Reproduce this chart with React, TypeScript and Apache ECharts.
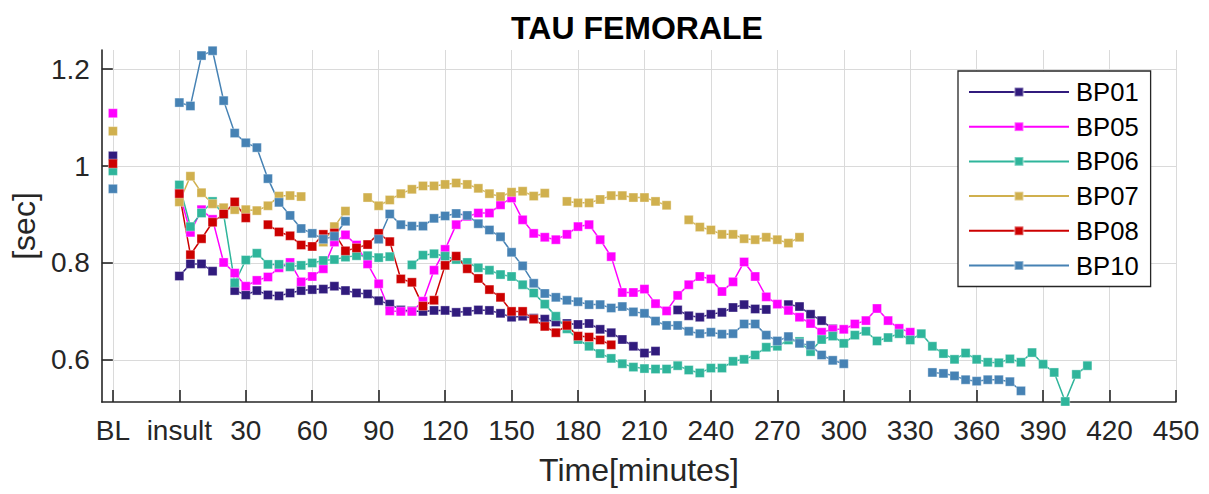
import React, { useEffect, useRef } from 'react';
import * as echarts from 'echarts';

// Sampling grid (minutes after insult), baseline position and the break between them
const TIMES: number[] = Array.from({ length: 83 }, (_, i) => i * 5); // 0 .. 410
const BL_TIME = -30;
const GAP_TIME = -15;

const X_TICKS = [-30, 0, 30, 60, 90, 120, 150, 180, 210, 240, 270, 300, 330, 360, 390, 420, 450];
const X_LABELS = ['BL', 'insult', '30', '60', '90', '120', '150', '180', '210', '240', '270', '300', '330', '360', '390', '420', '450'];
const Y_TICKS = [0.6, 0.8, 1, 1.2];
const Y_LABELS = ['0.6', '0.8', '1', '1.2'];

const N = null;

const BL_VALUES = { BP01: 1.021, BP05: 1.109, BP06: 0.99, BP07: 1.072, BP08: 1.005, BP10: 0.953 };

const BP01 = [
  0.773, 0.798, 0.798, 0.783, N, 0.743, 0.734, 0.743, 0.734, 0.732,
  0.738, 0.743, 0.745, 0.746, 0.752, 0.743, 0.738, 0.736, 0.722, 0.715,
  0.703, 0.701, 0.700, 0.702, 0.702, 0.698, 0.700, 0.703, 0.702, 0.696,
  0.688, 0.690, 0.686, 0.684, 0.678, 0.675, 0.673, 0.675, 0.663, 0.656,
  0.642, 0.628, 0.614, 0.618, N, 0.703, 0.691, 0.688, 0.694, 0.698,
  0.708, 0.714, 0.705, 0.704, N, 0.714, 0.710, 0.694, 0.681, 0.664,
  N, N, N, N, N, N, N, N, N, N,
  N, N, N, N, N, N, N, N, N, N,
  N, N, N,
];

const BP05 = [
  0.945, 0.863, 0.910, 0.890, 0.801, 0.779, 0.752, 0.764, 0.771, 0.790,
  0.801, 0.761, 0.772, 0.788, 0.843, 0.858, 0.837, 0.798, 0.757, 0.701,
  0.700, 0.700, 0.721, 0.785, 0.828, 0.879, 0.896, 0.903, 0.903, 0.920,
  0.934, 0.889, 0.861, 0.853, 0.848, 0.859, 0.875, 0.879, 0.848, 0.813,
  0.739, 0.739, 0.746, 0.716, 0.701, 0.733, 0.755, 0.772, 0.767, 0.741,
  0.761, 0.802, 0.772, 0.730, 0.715, 0.702, 0.688, 0.675, 0.657, 0.663,
  0.663, 0.674, 0.681, 0.706, 0.681, 0.665, 0.657, N, N, N,
  N, N, N, N, N, N, N, N, N, N,
  N, N, N,
];

const BP06 = [
  0.961, 0.875, 0.903, 0.927, 0.900, 0.759, 0.806, 0.820, 0.797, 0.797,
  0.792, 0.795, 0.800, 0.805, 0.807, 0.812, 0.815, 0.815, 0.811, 0.813,
  N, 0.796, 0.816, 0.819, 0.814, 0.807, 0.801, 0.790, 0.785, 0.776,
  0.772, 0.755, 0.738, 0.715, 0.690, 0.664, 0.642, 0.628, 0.613, 0.603,
  0.592, 0.585, 0.582, 0.581, 0.581, 0.588, 0.579, 0.573, 0.583, 0.583,
  0.597, 0.601, 0.610, 0.626, 0.628, 0.641, 0.638, 0.617, 0.642, 0.649,
  0.634, 0.651, 0.659, 0.639, 0.646, 0.654, 0.641, 0.654, 0.628, 0.613,
  0.601, 0.614, 0.601, 0.595, 0.594, 0.602, 0.595, 0.615, 0.591, 0.574,
  0.514, 0.570, 0.588,
];

const BP07 = [
  0.926, 0.979, 0.945, 0.922, 0.914, 0.910, 0.910, 0.908, 0.918, 0.938,
  0.939, 0.937, N, 0.843, 0.875, 0.907, N, 0.935, 0.918, 0.930,
  0.943, 0.952, 0.959, 0.959, 0.962, 0.965, 0.962, 0.954, 0.943, 0.937,
  0.946, 0.948, 0.938, 0.944, N, 0.927, 0.924, 0.924, 0.931, 0.939,
  0.939, 0.935, 0.935, 0.927, 0.919, N, 0.889, 0.874, 0.868, 0.859,
  0.859, 0.850, 0.848, 0.853, 0.848, 0.841, 0.853, N, N, N,
  N, N, N, N, N, N, N, N, N, N,
  N, N, N, N, N, N, N, N, N, N,
  N, N, N,
];

const BP08 = [
  0.943, 0.817, 0.850, 0.884, 0.901, 0.926, 0.893, N, 0.879, 0.864,
  0.856, 0.837, 0.834, 0.859, 0.862, 0.825, 0.831, 0.838, 0.861, 0.844,
  0.767, 0.760, 0.711, 0.723, 0.795, 0.814, 0.788, 0.768, 0.745, 0.729,
  0.700, 0.700, 0.684, 0.669, 0.656, 0.671, 0.649, 0.647, 0.641, 0.631,
  N, N, N, N, N, N, N, N, N, N,
  N, N, N, N, N, N, N, N, N, N,
  N, N, N, N, N, N, N, N, N, N,
  N, N, N, N, N, N, N, N, N, N,
  N, N, N,
];

const BP10 = [
  1.131, 1.124, 1.228, 1.238, 1.135, 1.068, 1.048, 1.038, 0.974, 0.925,
  0.898, 0.871, 0.861, 0.849, 0.855, 0.886, N, N, 0.849, 0.901,
  0.879, 0.876, 0.876, 0.892, 0.897, 0.902, 0.898, 0.881, 0.868, 0.854,
  0.822, 0.794, 0.758, 0.737, 0.729, 0.723, 0.720, 0.714, 0.714, 0.707,
  0.710, 0.699, 0.696, 0.680, 0.671, 0.671, 0.659, 0.654, 0.657, 0.653,
  0.654, 0.674, 0.674, 0.651, 0.639, 0.648, 0.634, 0.630, 0.610, 0.599,
  0.592, N, N, N, N, N, N, N, 0.574, 0.572,
  0.567, 0.559, 0.556, 0.559, 0.559, 0.555, 0.536, N, N, N,
  N, N, N,
];

const SERIES_DEF = [
  { name: 'BP01', color: '#311b7d', bl: BL_VALUES.BP01, values: BP01 },
  { name: 'BP05', color: '#ff00ff', bl: BL_VALUES.BP05, values: BP05 },
  { name: 'BP06', color: '#2fb59b', bl: BL_VALUES.BP06, values: BP06 },
  { name: 'BP07', color: '#d0b04e', bl: BL_VALUES.BP07, values: BP07 },
  { name: 'BP08', color: '#cc0000', bl: BL_VALUES.BP08, values: BP08 },
  { name: 'BP10', color: '#4682b4', bl: BL_VALUES.BP10, values: BP10 },
];

const FONT = "'Liberation Sans', Arial, Helvetica, sans-serif";
const AXIS_COLOR = '#262626';
const GRID_COLOR = '#dadada';

export default function App() {
  const ref = useRef<HTMLDivElement>(null);

  useEffect(() => {
    if (!ref.current) return;
    const chart = echarts.init(ref.current, null, { renderer: 'svg' });

    const series = SERIES_DEF.map((s) => ({
      name: s.name,
      type: 'line',
      data: [
        [BL_TIME, s.bl],
        [GAP_TIME, '-'],
        ...TIMES.map((t, i) => [t, s.values[i] == null ? '-' : s.values[i]]),
      ],
      symbol: 'rect',
      symbolSize: 9,
      showSymbol: true,
      connectNulls: false,
      lineStyle: { width: 1.5, color: s.color },
      itemStyle: { color: s.color, borderColor: 'rgba(255,255,255,0.35)', borderWidth: 1 },
      emphasis: { disabled: true },
    }));

    chart.setOption({
      animation: false,
      backgroundColor: '#ffffff',
      textStyle: { fontFamily: FONT },
      grid: { left: 100, right: 33, top: 50, bottom: 92, containLabel: false },
      graphic: [
        {
          type: 'text',
          x: 637,
          y: 28,
          style: {
            text: 'TAU FEMORALE',
            font: `bold 32px ${FONT}`,
            fill: '#000',
            textAlign: 'center',
            textVerticalAlign: 'middle',
          },
        },
      ],
      legend: {
        orient: 'vertical',
        left: 958,
        top: 71,
        itemWidth: 100,
        itemHeight: 11,
        itemGap: 8.7,
        padding: [8, 12, 8, 10],
        backgroundColor: '#ffffff',
        borderColor: AXIS_COLOR,
        borderWidth: 1.3,
        textStyle: { fontSize: 25.6, color: '#000', fontFamily: FONT, padding: [0, 0, 0, 2] },
        data: SERIES_DEF.map((s) => s.name),
        selectedMode: false,
      },
      xAxis: {
        type: 'value',
        min: -35,
        max: 450,
        name: 'Time[minutes]',
        nameLocation: 'middle',
        nameGap: 52,
        nameTextStyle: { fontSize: 32, color: AXIS_COLOR, fontFamily: FONT },
        axisLine: { show: true, onZero: false, lineStyle: { color: AXIS_COLOR, width: 1.6 } },
        axisTick: {
          show: true,
          inside: true,
          length: 12,
          customValues: X_TICKS,
          lineStyle: { color: AXIS_COLOR, width: 1.6 },
        },
        axisLabel: {
          customValues: X_TICKS,
          formatter: (v: number) => {
            const idx = X_TICKS.indexOf(v);
            return idx >= 0 ? X_LABELS[idx] : '';
          },
          fontSize: 28,
          color: AXIS_COLOR,
          margin: 14,
          fontFamily: FONT,
        },
        splitLine: { show: true, lineStyle: { color: GRID_COLOR, width: 1 } },
      },
      yAxis: {
        type: 'value',
        min: 0.513,
        max: 1.2395,
        name: '[sec]',
        nameLocation: 'middle',
        nameGap: 56,
        nameRotate: 90,
        nameTextStyle: { fontSize: 32, color: AXIS_COLOR, fontFamily: FONT },
        axisLine: { show: true, onZero: false, lineStyle: { color: AXIS_COLOR, width: 1.6 } },
        axisTick: {
          show: true,
          inside: true,
          length: 11,
          customValues: Y_TICKS,
          lineStyle: { color: AXIS_COLOR, width: 1.6 },
        },
        axisLabel: {
          customValues: Y_TICKS,
          formatter: (v: number) => {
            const idx = Y_TICKS.findIndex((t) => Math.abs(t - v) < 1e-9);
            return idx >= 0 ? Y_LABELS[idx] : '';
          },
          fontSize: 28,
          color: AXIS_COLOR,
          margin: 12,
          fontFamily: FONT,
        },
        splitLine: { show: true, lineStyle: { color: GRID_COLOR, width: 1 } },
      },
      series,
    });

    return () => {
      chart.dispose();
    };
  }, []);

  return (
    <div
      ref={ref}
      style={{ position: 'fixed', left: 0, top: 0, width: 1209, height: 494, background: '#fff' }}
    />
  );
}
